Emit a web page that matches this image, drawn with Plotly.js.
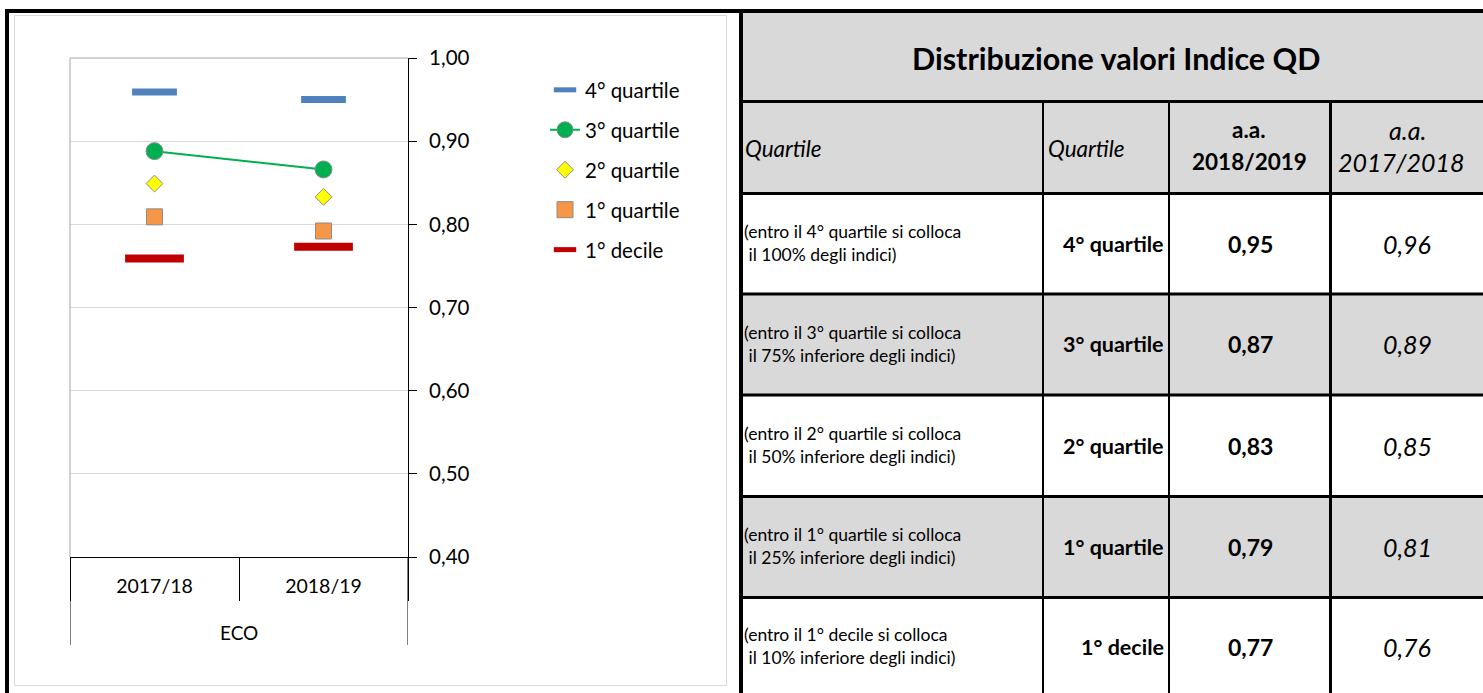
<!DOCTYPE html>
<html>
<head>
<meta charset="utf-8">
<script src="https://cdn.plot.ly/plotly-3.0.1.min.js"></script>
<style>
  html, body { margin: 0; padding: 0; background: #ffffff; }
  #chart { width: 1483px; height: 693px; }
</style>
</head>
<body>
<div id="chart"></div>
<script>
// ---------------- DATA ----------------
const categories = ["2017/18", "2018/19"];
const groupLabel = "ECO";
const quartile4 = [0.959, 0.950];
const quartile3 = [0.888, 0.866];
const quartile2 = [0.849, 0.833];
const quartile1 = [0.809, 0.792];
const decile1   = [0.759, 0.773];
const seriesNames = ["4° quartile", "3° quartile", "2° quartile", "1° quartile", "1° decile"];

const tableTitle = "Distribuzione valori Indice QD";
const headerCol1 = "Quartile";
const headerCol2 = "Quartile";
const headerYearTop = ["a.a.", "a.a."];
const headerYearBottom = ["2018/2019", "2017/2018"];
const rowDescLine1 = [
  "(entro il 4° quartile si colloca",
  "(entro il 3° quartile si colloca",
  "(entro il 2° quartile si colloca",
  "(entro il 1° quartile si colloca",
  "(entro il 1° decile si colloca"
];
const rowDescLine2 = [
  " il 100% degli indici)",
  " il 75% inferiore degli indici)",
  " il 50% inferiore degli indici)",
  " il 25% inferiore degli indici)",
  " il 10% inferiore degli indici)"
];
const rowLabels = ["4° quartile", "3° quartile", "2° quartile", "1° quartile", "1° decile"];
const values2018_19 = ["0,95", "0,87", "0,83", "0,79", "0,77"];
const values2017_18 = ["0,96", "0,89", "0,85", "0,81", "0,76"];

// ---------------- LAYOUT HELPERS ----------------
const W = 1483, H = 693;
const X = p => p / W;
const Y = p => 1 - p / H;
const FONT = "Lato, 'Open Sans', sans-serif";

const plotLeft = 70, plotRight = 408, plotTop = 58, plotBottom = 557;

// ---------------- TRACES ----------------
const grey = "#8C8C8C";
const traces = [
  { x: categories, y: quartile4, name: seriesNames[0], type: "scatter", mode: "markers",
    legendgroup: "g1",
    marker: { symbol: "line-ew", size: 32, color: "#4F81BD", line: { color: "#4F81BD", width: 7 } } },
  { x: categories, y: quartile3, name: seriesNames[1], type: "scatter", mode: "lines+markers",
    legendgroup: "g2",
    line: { color: "#00B050", width: 2 },
    marker: { symbol: "circle", size: 17, color: "#00B050", line: { color: grey, width: 1 } } },
  { x: categories, y: quartile2, name: seriesNames[2], type: "scatter", mode: "markers",
    legendgroup: "g3",
    marker: { symbol: "diamond", size: 13, color: "#FFFF00", line: { color: grey, width: 1 } } },
  { x: categories, y: quartile1, name: seriesNames[3], type: "scatter", mode: "markers",
    legendgroup: "g4",
    marker: { symbol: "square", size: 16, color: "#F79646", line: { color: grey, width: 1 } } },
  { x: categories, y: decile1, name: seriesNames[4], type: "scatter", mode: "markers",
    legendgroup: "g5",
    marker: { symbol: "line-ew", size: 42, color: "#C00000", line: { color: "#C00000", width: 8 } } }
];

// ---------------- SHAPES ----------------
const shapes = [];
const line = (x0, y0, x1, y1, color, width) =>
  ({ type: "line", xref: "paper", yref: "paper", x0: X(x0), y0: Y(y0), x1: X(x1), y1: Y(y1),
     line: { color: color, width: width }, layer: "above" });
const rect = (x0, y0, x1, y1, fill) =>
  ({ type: "rect", xref: "paper", yref: "paper", x0: X(x0), y0: Y(y0), x1: X(x1), y1: Y(y1),
     fillcolor: fill, line: { width: 0 }, layer: "below" });

// chart frame (light grey)
shapes.push({ type: "rect", xref: "paper", yref: "paper", x0: X(14.5), y0: Y(685.5), x1: X(726.5), y1: Y(15.5),
  line: { color: "#D9D9D9", width: 1 }, fillcolor: "rgba(0,0,0,0)", layer: "below" });
// plot area grey top & left borders
shapes.push(line(plotLeft, plotTop, plotRight, plotTop, "#A6A6A6", 1));
shapes.push(line(plotLeft, plotTop, plotLeft, plotBottom, "#A6A6A6", 1));
// outer group dividers (category boundaries), extended below group label
[-0.5, categories.length - 0.5].forEach(b => {
  shapes.push({ type: "line", xref: "x", yref: "paper", x0: b, x1: b, y0: Y(plotBottom), y1: Y(645),
    line: { color: "#000000", width: 1 }, layer: "above" });
});

// table geometry
const rowY = [11, 101.5, 193.5, 294, 395, 496.5, 597.5, 700];
const gridFill = "#D9D9D9";
shapes.push(rect(741, 11, 1490, 101.5, gridFill));
shapes.push(rect(741, 101.5, 1490, 193.5, gridFill));
for (let r = 0; r < rowLabels.length; r++) {
  if (r % 2 === 1) shapes.push(rect(741, rowY[r + 2], 1490, rowY[r + 3], gridFill));
}
for (let i = 1; i < rowY.length - 1; i++) shapes.push(line(741, rowY[i], 1490, rowY[i], "#000000", 3));
shapes.push(line(1043, 101.5, 1043, 700, "#000000", 2));
shapes.push(line(1169, 101.5, 1169, 700, "#000000", 2));
shapes.push(line(1330.5, 101.5, 1330.5, 700, "#000000", 3));
shapes.push(line(5, 11, 1490, 11, "#000000", 4));
shapes.push(line(7, 9, 7, 700, "#000000", 4));
shapes.push(line(741, 9, 741, 700, "#000000", 4));

// ---------------- ANNOTATIONS ----------------
const annotations = [];
const ann = (text, x, y, xanchor, size, extra) => Object.assign({
  text: text, xref: "paper", yref: "paper", x: X(x), y: Y(y), xanchor: xanchor, yanchor: "middle",
  showarrow: false, font: { family: FONT, size: size, color: "#000000" }, align: xanchor === "center" ? "center" : xanchor
}, extra || {});

annotations.push(Object.assign(ann(groupLabel, 0, 632, "center", 19), { xref: "x", x: (categories.length - 1) / 2 }));

annotations.push(ann("<b>" + tableTitle + "</b>", 1116, 58, "center", 30.5));
annotations.push(ann("<i>" + headerCol1 + "</i>", 743, 149, "left", 22.5));
annotations.push(ann("<i>" + headerCol2 + "</i>", 1046, 149, "left", 22.5));
annotations.push(ann("<b>" + headerYearTop[0] + "</b>", 1249, 130, "center", 22.5));
annotations.push(ann("<b>" + headerYearBottom[0] + "</b>", 1249, 162, "center", 22.5));
annotations.push(ann("<i>" + headerYearTop[1] + "</i>", 1407, 130, "center", 25));
annotations.push(ann("<i>" + headerYearBottom[1] + "</i>", 1401, 162, "center", 25));

for (let r = 0; r < rowLabels.length; r++) {
  const cy = (rowY[r + 2] + Math.min(rowY[r + 3], 693)) / 2;
  const yc = r === rowLabels.length - 1 ? 647 : cy;
  annotations.push(ann(rowDescLine1[r] + "<br>" + rowDescLine2[r], 742, yc - 1, "left", 17.5));
  annotations.push(ann("<b>" + rowLabels[r] + "</b>", 1166, yc, "right", 21.5));
  annotations.push(ann("<b>" + values2018_19[r] + "</b>", 1250, yc, "center", 23));
  annotations.push(ann("<i>" + values2017_18[r] + "</i>", 1407, yc, "center", 25));
}

const layout = {
  width: W, height: H,
  margin: { l: 0, r: 0, t: 0, b: 0, pad: 0 },
  paper_bgcolor: "#ffffff", plot_bgcolor: "rgba(0,0,0,0)",
  separators: ", ",
  font: { family: FONT, size: 18, color: "#000000" },
  showlegend: true,
  legend: { x: X(545), y: Y(70), xanchor: "left", yanchor: "top", traceorder: "grouped",
            tracegroupgap: 10.3, font: { family: FONT, size: 20.5, color: "#000000" },
            bgcolor: "rgba(0,0,0,0)", borderwidth: 0 },
  xaxis: {
    domain: [X(plotLeft), X(plotRight)], anchor: "y",
    type: "category", categoryorder: "array", categoryarray: categories, range: [-0.5, categories.length - 0.5],
    showline: true, linecolor: "#000000", linewidth: 1,
    ticks: "outside", tickson: "boundaries", ticklen: 43, tickcolor: "#000000", tickwidth: 1,
    ticklabelstandoff: 12,
    tickfont: { family: FONT, size: 19.5, color: "#000000" },
    showgrid: false, zeroline: false, fixedrange: true
  },
  yaxis: {
    domain: [Y(plotBottom), Y(plotTop)], anchor: "x", side: "right",
    range: [0.4, 1.0], tick0: 0.4, dtick: 0.1, tickformat: ".2f",
    showline: true, linecolor: "#000000", linewidth: 1,
    ticks: "outside", ticklen: 8, tickcolor: "#000000", tickwidth: 1,
    ticklabelstandoff: 8,
    tickfont: { family: FONT, size: 20.5, color: "#000000" },
    showgrid: true, gridcolor: "#D9D9D9", gridwidth: 1, zeroline: false, fixedrange: true
  },
  yaxis2: {
    overlaying: "y", anchor: "x", side: "right",
    range: [0.4, 1.0], tick0: 0.4, dtick: 0.1,
    ticks: "inside", ticklen: 8, tickcolor: "#000000", tickwidth: 1,
    showticklabels: false, showgrid: false, showline: false, zeroline: false, fixedrange: true
  },
  shapes: shapes,
  annotations: annotations
};

Plotly.newPlot("chart", traces, layout, { displayModeBar: false, staticPlot: true });
</script>
</body>
</html>
